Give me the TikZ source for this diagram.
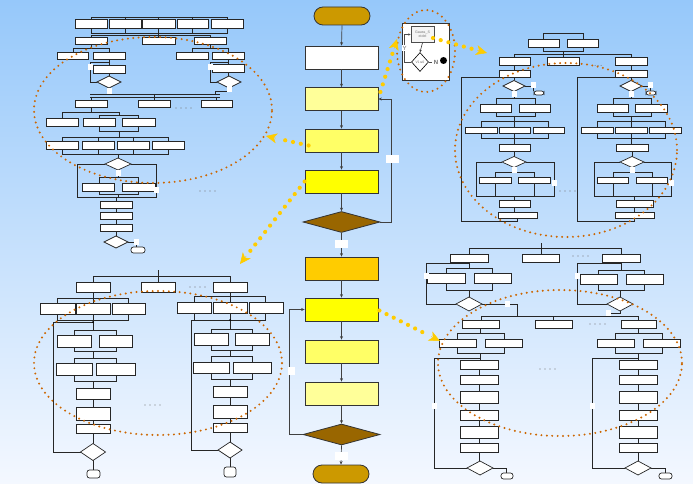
\documentclass[tikz,border=0pt]{standalone}
\usepackage{fontspec}
\setmainfont{Liberation Sans}
\newfontfamily\djv{DejaVu Sans}
\usetikzlibrary{arrows.meta,shapes.geometric,calc}
\definecolor{bgtop}{RGB}{150,200,250}
\definecolor{bgbot}{RGB}{244,248,255}
\definecolor{termc}{RGB}{204,153,0}
\definecolor{yA}{RGB}{255,255,153}
\definecolor{yB}{RGB}{255,255,102}
\definecolor{yC}{RGB}{255,255,0}
\definecolor{orC}{RGB}{255,204,0}
\definecolor{brn}{RGB}{153,102,0}
\definecolor{orng}{RGB}{204,102,0}
\definecolor{gold}{RGB}{255,204,0}
\tikzset{
  sl/.style={draw=black!85, line width=0.55pt},
  sb/.style={draw=black!85, fill=white, line width=0.7pt},
  mbox/.style={draw=black!80, line width=0.8pt, minimum width=73pt, minimum height=23pt, inner sep=0pt},
  termbox/.style={draw=black!80, fill=termc, rounded corners=9pt, minimum width=56pt, minimum height=18pt, inner sep=0pt, line width=0.8pt},
  mdiam/.style={diamond, draw=black!80, fill=brn, minimum width=77pt, minimum height=21pt, inner sep=0pt, line width=0.8pt},
  ar/.style={-{Stealth[length=3.5pt,width=3pt]}, draw=black!75, line width=0.7pt},
  wlab/.style={fill=white, inner sep=0pt, minimum width=13pt, minimum height=8pt},
  odots/.style={draw=orng, line width=2.2pt, line cap=round, dash pattern=on 0pt off 5.4pt},
  ydots/.style={draw=gold, line width=4.2pt, line cap=round, dash pattern=on 0pt off 8pt},
  yhead/.style={draw=gold, line width=0.5pt, -{Stealth[length=11pt,width=10pt,inset=3pt]}},
}
\newcommand\BX[4]{\draw[sb] (#1,#2) rectangle (#3,#4);}
\newcommand\DM[4]{\draw[sb] ({#1-#3},#2) -- (#1,{#2-#4}) -- ({#1+#3},#2) -- (#1,{#2+#4}) -- cycle;}
\newcommand\WL[2]{\fill[white] ({#1-2.5},{#2-3}) rectangle ({#1+2.5},{#2+3});}
\newcommand\TM[4]{\draw[sb, rounded corners=2.5pt] (#1,#2) rectangle (#3,#4);}
\newcommand\DOTS[2]{\foreach \kk in {0,1,2,3}{\fill[black!55] ({#1+\kk*5},#2) circle (0.6);}}
\begin{document}
\begin{tikzpicture}[x=1pt,y=-1pt]
\useasboundingbox (0,0) rectangle (693,484);
\shade[top color=bgtop, bottom color=bgbot] (0,0) rectangle (693,484);

% ================= TOP-LEFT sub-flowchart =================
\draw[sl] (91,20)--(91,17)--(227,17)--(227,20) (125,17)--(125,20) (158.5,17)--(158.5,20) (192.5,17)--(192.5,20);
\draw[sl] (91,28)--(91,33)--(227,33)--(227,28) (125,28)--(125,33) (158.5,28)--(158.5,37) (192.5,28)--(192.5,33);
\draw[sl] (91,37)--(91,35)--(210,35)--(210,37);
\draw[sl] (91,44)--(91,48) (73,52)--(73,48)--(109,48)--(109,52);
\draw[sl] (109,59)--(109,65) (109,73)--(109,76);
\draw[sl] (97,82)--(90,82)--(90,62)--(109,62);
\draw[sl] (109,88)--(109,94);
\draw[sl] (210,44)--(210,48) (192,52)--(192,48)--(228,48)--(228,52);
\draw[sl] (228,59)--(228,64) (228,72)--(228,76);
\draw[sl] (217,82)--(210,82)--(210,62)--(228,62);
\draw[sl] (229,88)--(229,91)--(215,91)--(215,94);
\draw[sl] (90,94)--(220,94) (90,97)--(220,97);
\draw[sl] (91,97)--(91,100) (154,94)--(154,100) (216,97)--(216,100);
\draw[sl] (91,107)--(91,112) (62,118)--(62,112)--(119,112)--(119,115) (99,118)--(99,115)--(138,115)--(138,118);
\draw[sl] (99,126)--(99,131)--(138,131)--(138,126) (119,131)--(119,137);
\draw[sl] (62,141)--(62,137)--(168,137)--(168,141) (98,137)--(98,141) (133,137)--(133,141);
\draw[sl] (62,149)--(62,154)--(168,154)--(168,149) (98,149)--(98,154) (133,149)--(133,154);
\draw[sl] (118,154)--(118,158);
\draw[sl] (105,164)--(77,164)--(77,197)--(156,197)--(156,164)--(131,164);
\draw[sl] (118,170)--(118,177) (99,183)--(99,177)--(138,177)--(138,183);
\draw[sl] (99,191)--(99,194)--(138,194)--(138,191) (118,194)--(118,197);
\draw[sl] (116,197)--(116,201) (116,208)--(116,212) (116,219)--(116,224) (116,231)--(116,236);
\draw[sl] (128,242)--(136,242)--(136,247);
\BX{75}{19}{107}{28} \BX{109}{19}{141}{28} \BX{142}{19}{175}{28} \BX{177}{19}{208}{28} \BX{211}{19}{243}{28}
\BX{75}{37}{107}{44} \BX{142}{37}{175}{44} \BX{194}{37}{226}{44}
\BX{57}{52}{88}{59} \BX{93}{52}{125}{59} \BX{93}{65}{125}{73}
\DM{109}{82}{12}{6}
\BX{176}{52}{208}{59} \BX{212}{52}{244}{59} \BX{212}{64}{244}{72}
\DM{229}{82}{12}{6}
\WL{90}{67} \WL{109}{91} \WL{210}{67} \WL{229}{89}
\BX{75}{100}{107}{107} \BX{138}{100}{170}{107} \BX{201}{100}{232}{107}
\DOTS{176}{108}
\BX{46}{118}{78}{126} \BX{83}{118}{115}{126} \BX{122}{118}{155}{126}
\BX{46}{141}{78}{149} \BX{82}{141}{114}{149} \BX{117}{141}{149}{149} \BX{152}{141}{184}{149}
\DM{118}{164}{13}{6}
\BX{82}{183}{114}{191} \BX{122}{183}{155}{191}
\WL{118}{173} \WL{156}{190}
\BX{100}{201}{132}{208} \BX{100}{212}{132}{219} \BX{100}{224}{132}{231}
\DM{116}{242}{12}{6}
\WL{136}{242}
\TM{131}{247}{145}{253}
\DOTS{200}{191}

% ================= TOP-RIGHT sub-flowchart =================
\draw[sl] (543,33) rectangle (583,51);
\draw[sl] (563,51)--(563,57) (514,57)--(514,54)--(631,54)--(631,57);
\draw[sl] (514,65)--(514,70) (631,65)--(631,70);
\draw[sl] (499,77)--(461,77)--(461,221)--(517,221)--(517,218);
\draw[sl] (514,77)--(514,80) (525,86)--(533,86)--(533,91) (514,91)--(514,98);
\draw[sl] (496,104)--(496,98)--(535,98)--(535,104) (496,112)--(496,116)--(535,116)--(535,112) (514,116)--(514,121);
\draw[sl] (481,127)--(481,121)--(548,121)--(548,127) (514,121)--(514,127) (481,133)--(481,138)--(548,138)--(548,133) (514,133)--(514,144);
\draw[sl] (514,151)--(514,156.5);
\draw[sl] (502,162)--(476,162)--(476,196)--(554,196)--(554,162)--(526,162);
\draw[sl] (514,167.5)--(514,172) (495,177)--(495,172)--(534,172)--(534,177) (495,183)--(495,196) (534,183)--(534,196);
\draw[sl] (514,196)--(514,200) (514,207)--(514,212);
\BX{528}{39}{559}{47} \BX{567}{39}{598}{47}
\BX{499}{57}{530}{65} \BX{547}{57}{579}{65} \BX{615}{57}{647}{65}
\BX{499}{70}{530}{77} \BX{615}{70}{647}{77}
\DM{514}{86}{11}{5.5} \WL{533}{85} \TM{534}{91}{544}{95} \WL{514}{94}
\BX{480}{104}{511}{112} \BX{519}{104}{550}{112}
\BX{465}{127}{497}{133} \BX{499}{127}{530}{133} \BX{533}{127}{564}{133}
\BX{499}{144}{530}{151}
\DM{514}{162}{12}{5.5}
\BX{479}{177}{511}{183} \BX{518}{177}{550}{183} \WL{554}{183} \WL{514}{170}
\BX{499}{200}{530}{207} \BX{498}{212}{537}{218}
\draw[sl] (615,77)--(577,77)--(577,221)--(634,221)--(634,218);
\draw[sl] (631,77)--(631,80) (642,86)--(650,86)--(650,91) (631,91)--(631,98);
\draw[sl] (613,104)--(613,98)--(651,98)--(651,104) (613,112)--(613,116)--(651,116)--(651,112) (631,116)--(631,121);
\draw[sl] (597,127)--(597,121)--(665,121)--(665,127) (631,121)--(631,127) (597,133)--(597,138)--(665,138)--(665,133) (631,133)--(631,144);
\draw[sl] (632,151)--(632,156.5);
\draw[sl] (620,162)--(594,162)--(594,196)--(671,196)--(671,162)--(644,162);
\draw[sl] (632,167.5)--(632,172) (613,177)--(613,172)--(652,172)--(652,177) (613,183)--(613,196) (652,183)--(652,196);
\draw[sl] (634,196)--(634,200) (634,207)--(634,212);
\DM{631}{86}{11}{5.5} \WL{650}{85} \TM{646}{91}{656}{95} \WL{631}{94}
\BX{597}{104}{628}{112} \BX{635}{104}{667}{112}
\BX{581}{127}{613}{133} \BX{615}{127}{647}{133} \BX{649}{127}{681}{133}
\BX{616}{144}{648}{151} \DM{632}{162}{12}{5.5}
\BX{597}{177}{628}{183} \BX{636}{177}{667}{183} \WL{671}{183} \WL{632}{170}
\BX{616}{200}{653}{207} \BX{615}{212}{654}{218}
\DOTS{560}{191}
\foreach \kk in {0,1,2}{\fill[black!55] ({595+\kk*3},65.5) circle (0.5);}

% ================= BOTTOM-LEFT sub-flowchart =================
\draw[sl] (158,270)--(158,282) (93,282)--(93,276)--(230,276)--(230,282);
\draw[sl] (93,292)--(93,303) (57,303)--(57,298)--(128,298)--(128,303);
\draw[sl] (57,314)--(57,320)--(128,320)--(128,314) (93,314)--(93,330);
\draw[sl] (81,452)--(53,452)--(53,322)--(93,322);
\draw[sl] (74,335)--(74,330)--(116,330)--(116,335) (74,347)--(74,351)--(116,351)--(116,347) (93,351)--(93,358);
\draw[sl] (74,363)--(74,358)--(116,358)--(116,363) (74,375)--(74,381)--(116,381)--(116,375) (93,381)--(93,388);
\draw[sl] (93,399)--(93,407) (93,420)--(93,424) (93,433)--(93,444) (93,460)--(93,470);
\BX{76}{282}{110}{292} \BX{141}{282}{175}{292} \BX{213}{282}{247}{292} \DOTS{190}{287}
\BX{40}{303}{75}{314} \BX{76}{303}{110}{314} \BX{112}{303}{145}{314}
\BX{57}{335}{91}{347} \BX{99}{335}{132}{347}
\BX{56}{363}{92}{375} \BX{96}{363}{135}{375}
\BX{76}{388}{110}{399} \BX{76}{407}{110}{420} \BX{76}{424}{110}{433}
\DM{93}{452}{12.5}{8.5}
\TM{87}{470}{100}{478}
\fill (93,322) circle (1);
\draw[sl] (230,292)--(230,302) (194,302)--(194,296)--(265,296)--(265,302);
\draw[sl] (194,313)--(194,320)--(265,320)--(265,313) (230,313)--(230,329);
\draw[sl] (218,450)--(191,450)--(191,320)--(230,320);
\draw[sl] (211,333)--(211,329)--(252,329)--(252,333) (211,345)--(211,350)--(252,350)--(252,345) (230,350)--(230,356);
\draw[sl] (211,362)--(211,356)--(252,356)--(252,362) (211,373)--(211,379)--(252,379)--(252,373) (230,379)--(230,386);
\draw[sl] (230,397)--(230,405) (230,418)--(230,423) (230,432)--(230,442) (230,458)--(230,467);
\BX{177}{302}{211}{313} \BX{213}{302}{247}{313} \BX{249}{302}{283}{313}
\BX{194}{333}{228}{345} \BX{235}{333}{269}{345}
\BX{193}{362}{229}{373} \BX{233}{362}{271}{373}
\BX{213}{386}{247}{397} \BX{213}{405}{247}{418} \BX{213}{423}{247}{432}
\DM{230}{450}{12}{8}
\TM{224}{467}{236}{477}
\DOTS{145}{405}
\fill (230,320) circle (1);

% ================= BOTTOM-RIGHT sub-flowchart =================
\draw[sl] (541,243)--(541,254) (469,254)--(469,248)--(621,248)--(621,254);
\draw[sl] (469,262)--(469,268) (446,273)--(446,268)--(492,268)--(492,273);
\draw[sl] (446,283)--(446,290)--(492,290)--(492,283) (469,290)--(469,297);
\draw[sl] (456,304)--(426,304)--(426,263)--(469,263);
\draw[sl] (482,304)--(517,304)--(517,316);
\draw[sl] (621,262)--(621,270) (598,274)--(598,270)--(644,270)--(644,274);
\draw[sl] (598,284)--(598,290)--(644,290)--(644,284) (620,290)--(620,297);
\draw[sl] (607,304)--(577,304)--(577,263)--(621,263);
\draw[sl] (620,311)--(620,313)--(606,313)--(606,316);
\draw[sl] (481,320)--(481,316)--(638,316)--(638,320) (553,316)--(553,320);
\draw[sl] (480,328)--(480,333) (457,339)--(457,333)--(504,333)--(504,339);
\draw[sl] (457,347)--(457,353)--(504,353)--(504,347) (480,353)--(480,360);
\draw[sl] (467,468)--(434,468)--(434,358)--(480,358);
\draw[sl] (479,369)--(479,375) (479,384)--(479,391) (479,403)--(479,410) (479,420)--(479,426) (479,438)--(479,443) (479,452)--(479,461);
\draw[sl] (493,468)--(506,468)--(506,474);
\draw[sl] (638,328)--(638,333) (615,339)--(615,333)--(662,333)--(662,339);
\draw[sl] (615,347)--(615,353)--(662,353)--(662,347) (638,353)--(638,360);
\draw[sl] (625,468)--(592,468)--(592,358)--(638,358);
\draw[sl] (638,369)--(638,375) (638,384)--(638,391) (638,403)--(638,410) (638,420)--(638,426) (638,438)--(638,443) (638,452)--(638,461);
\draw[sl] (651,468)--(665,468)--(665,473);
\BX{450}{254}{488}{262} \BX{522}{254}{559}{262} \BX{602}{254}{640}{262} \DOTS{573}{256}
\BX{427}{273}{465}{283} \BX{474}{273}{511}{283}
\DM{469}{304}{13}{7}
\WL{426}{276} \WL{507}{304}
\BX{580}{274}{617}{284} \BX{626}{274}{663}{284}
\DM{620}{304}{13}{7}
\WL{577}{276} \WL{608}{313}
\BX{462}{320}{499}{328} \BX{535}{320}{572}{328} \BX{621}{320}{656}{328} \DOTS{590}{324}
\BX{439}{339}{476}{347} \BX{485}{339}{522}{347}
\BX{597}{339}{634}{347} \BX{643}{339}{680}{347}
\foreach \ya/\yb in {360/369,375/384,391/403,410/420,426/438,443/452}{
  \BX{460}{\ya}{498}{\yb} \BX{619}{\ya}{657}{\yb}}
\DM{480}{468}{13}{7} \TM{501}{473}{513}{479} \WL{434}{406}
\DM{638}{468}{13}{7} \TM{659}{473}{672}{479} \WL{592}{406}
\DOTS{540}{369}

% ================= orange dotted ellipses =================
\draw[odots] (153,110) ellipse [x radius=119pt, y radius=73pt];
\draw[odots] (566,150) ellipse [x radius=111pt, y radius=87pt];
\draw[odots] (158,363) ellipse [x radius=124pt, y radius=72pt];
\draw[odots] (560,363) ellipse [x radius=122pt, y radius=73pt];

% ================= central flow =================
\node[termbox] (t1) at (342,16) {};
\node[mbox, fill=white] (b1) at (341.5,57.5) {};
\node[mbox, fill=yA] (b2) at (341.5,99) {};
\node[mbox, fill=yB] (b3) at (341.5,140.5) {};
\node[mbox, fill=yC] (b4) at (341.5,181.5) {};
\node[mdiam] (d1) at (341.5,222) {};
\node[mbox, fill=orC] (b5) at (341.5,268.5) {};
\node[mbox, fill=yC] (b6) at (341.5,309.5) {};
\node[mbox, fill=yB] (b7) at (341.5,351.5) {};
\node[mbox, fill=yA] (b8) at (341.5,393.5) {};
\node[mdiam] (d2) at (341.5,434.5) {};
\node[termbox] (t2) at (341,474) {};
\draw[ar] (t1.south) -- (b1.north);
\draw[ar] (b1.south) -- (b2.north);
\draw[ar] (b2.south) -- (b3.north);
\draw[ar] (b3.south) -- (b4.north);
\draw[ar] (b4.south) -- (d1.north);
\draw[ar] (d1.south) -- (b5.north);
\draw[ar] (b5.south) -- (b6.north);
\draw[ar] (b6.south) -- (b7.north);
\draw[ar] (b7.south) -- (b8.north);
\draw[ar] (b8.south) -- (d2.north);
\draw[ar] (d2.south) -- (t2.north);
\draw[ar] (d1.east) -- ++(11,0) |- (b2.east);
\draw[ar] (d2.west) -- ++(-13,0) |- (b6.west);
\node[wlab] (l1) at (341.5,243.5) {};
\node[wlab] (l2) at (392.5,158.5) {};
\node[wlab, minimum width=7pt] (l3) at (291,371) {};
\node[wlab] (l4) at (341.5,456) {};

% ================= Gauss-Seidel inset =================
\node[draw=black!80, fill=white, line width=0.8pt, minimum width=47pt, minimum height=57pt, inner sep=0pt] (gb) at (425.5,51.5) {};
\node[draw=black!70, fill=gray!8, line width=0.6pt, minimum width=23pt, minimum height=16pt, inner sep=0pt, align=center, text=black!55, font=\fontsize{3.6}{4.2}\selectfont] (gs) at (422.5,34.5) {Gauss\_S\\eidel};
\node[diamond, draw=black, fill=white, line width=0.6pt, minimum width=17pt, minimum height=19pt, inner sep=0pt] (vd) at (420,62) {};
\node[inner sep=0pt, text=black!55, font=\djv\fontsize{3.2}{3.5}\selectfont] (vt) at (420,62) {V1≤0};
\draw[-{Stealth[length=2.5pt,width=2.2pt]}, black!80, line width=0.6pt] (gs.south) -- (vd.north);
\draw[-{Stealth[length=2.5pt,width=2.2pt]}, black!70, line width=0.7pt] (vd.west) -- (404,62) |- (gs.west);
\node[fill=white, inner sep=0.5pt, text=black!60, font=\fontsize{6}{6}\selectfont] (yl) at (404.5,48) {Y};
\draw[black!70, line width=0.6pt] (vd.east) -- (432,62);
\node[inner sep=0pt, text=black!60, font=\bfseries\fontsize{6}{6}\selectfont] (nl) at (436,62) {N};
\fill (443.5,60.5) circle (3.5);
\draw[odots] (426,51) ellipse [x radius=29pt, y radius=41pt];

% ================= yellow dotted arrows =================
\coordinate (s1) at ([shift={(2,-7)}]b2.east);  \coordinate (e1) at (397,39);
\coordinate (s2) at (433,38);                    \coordinate (e2) at (487,53);
\coordinate (s3) at ([shift={(4,5)}]b3.west);   \coordinate (e3) at (266,136);
\coordinate (s4) at (b4.west);                   \coordinate (e4) at (240,264);
\coordinate (s5) at ([shift={(1,1)}]b6.east);    \coordinate (e5) at (440,341);
\foreach \s/\e in {s1/e1,s2/e2,s3/e3,s4/e4,s5/e5}{
  \draw[ydots] (\s) -- ($(\e)!12pt!(\s)$);
  \draw[yhead] ($(\e)!10pt!(\s)$) -- (\e);
}
\end{tikzpicture}
\end{document}
